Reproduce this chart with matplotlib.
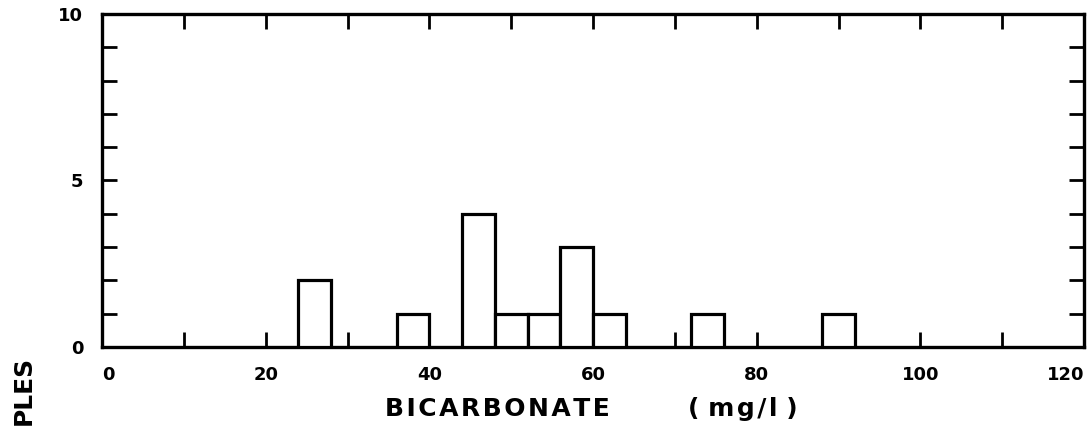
import matplotlib
matplotlib.use('Agg')
import matplotlib.pyplot as plt
from matplotlib.ticker import MultipleLocator

# Bicarbonate histogram, 4 mg/l bins
bin_left = [24, 36, 44, 48, 52, 56, 60, 72, 88]
counts = [2, 1, 4, 1, 1, 3, 1, 1, 1]
bin_width = 4

x_ticks = [0, 20, 40, 60, 80, 100, 120]
y_ticks = [0, 5, 10]

plt.rcParams['font.family'] = ['DejaVu Sans']
plt.rcParams['font.weight'] = 'bold'

fig = plt.figure(figsize=(10.9, 4.29), dpi=100)
ax = fig.add_axes([102 / 1090, 82 / 429, 982 / 1090, 333 / 429])

ax.bar(bin_left, counts, width=bin_width, align='edge',
       facecolor='white', edgecolor='black', linewidth=2.3, zorder=3)

ax.set_xlim(0, 120)
ax.set_ylim(0, 10)
ax.set_xticks(x_ticks)
ax.set_yticks(y_ticks)
ax.xaxis.set_minor_locator(MultipleLocator(10))
ax.yaxis.set_minor_locator(MultipleLocator(1))
# keep the little tick marks under the labelled positions as well
ax.xaxis.remove_overlapping_locs = False
ax.yaxis.remove_overlapping_locs = False

ax.tick_params(axis='both', which='both', direction='in', color='black',
               width=2, top=True, right=True)
ax.tick_params(axis='both', which='major', length=0, pad=13.5, labelsize=13)
ax.tick_params(axis='x', which='minor', length=10.5)
ax.tick_params(axis='y', which='minor', length=11)

xlabels = ax.get_xticklabels()
xlabels[0].set_horizontalalignment('left')
xlabels[-1].set_horizontalalignment('right')
for lab in xlabels + ax.get_yticklabels():
    lab.set_fontweight('bold')

for sp in ax.spines.values():
    sp.set_linewidth(2.4)

hair = '\u200a'
fig.text(385 / 1090, 1 - 409 / 429, hair.join('BICARBONATE'), fontsize=18,
         fontweight='bold', ha='left', va='center')
fig.text(688 / 1090, 1 - 409 / 429, '( ' + hair.join('mg/l') + ' )',
         fontsize=18, fontweight='bold', ha='left', va='center')
fig.text(24 / 1090, 1 - 356 / 429, 'PLES', fontsize=18, fontweight='bold',
         rotation=90, ha='center', va='top')

fig.savefig('out.png', dpi=100, facecolor='white')
